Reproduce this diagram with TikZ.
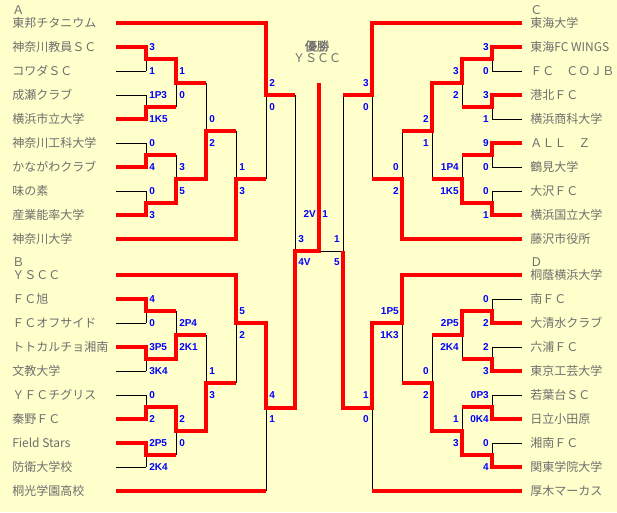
\documentclass[tikz,border=0pt]{standalone}
\usepackage{fontspec}
\setmainfont{Noto Sans CJK JP}[AutoFakeBold=1.5]
\newfontfamily\scorefont{Liberation Sans}
\definecolor{paper}{HTML}{FFFFCC}
\definecolor{teamgray}{HTML}{6E6E6E}
\tikzset{
  win/.style={red, line width=3pt},
  lose/.style={black, line width=0.75pt},
  team/.style={anchor=west, inner sep=0pt, text=teamgray, font=\fontsize{9}{10}\selectfont},
  lscore/.style={anchor=west, inner sep=0pt, text=blue, font=\scorefont\bfseries\fontsize{7.5}{8}\selectfont},
  rscore/.style={lscore, anchor=east}
}
\begin{document}
\begin{tikzpicture}[x=0.75pt, y=-0.75pt]
\fill[paper] (0,0) rectangle (617,512);
% block letters and winner
\foreach \x/\y/\b in {12/10/Ａ, 12/262/Ｂ, 530/10/Ｃ, 530/262/Ｄ}
  \node[team] (blk\b) at (\x,\y) {\b};
\node[team, anchor=center, font=\bfseries\fontsize{9}{10}\selectfont] (champ) at (317,46) {優勝};
\node[team, anchor=center] (champteam) at (317,58) {ＹＳＣＣ};
% teams
\foreach \y/\t [count=\i] in {23/東邦チタニウム, 47/神奈川教員ＳＣ, 71/コワダＳＣ, 95/成瀬クラブ, 119/横浜市立大学, 143/神奈川工科大学, 167/かながわクラブ, 191/味の素, 215/産業能率大学, 239/神奈川大学, 275/ＹＳＣＣ, 299/ＦＣ旭, 323/ＦＣオフサイド, 347/トトカルチョ湘南, 371/文教大学, 395/ＹＦＣチグリス, 419/秦野ＦＣ, 443/Field Stars, 467/防衛大学校, 491/桐光学園高校}
  \node[team] (L\i) at (12,\y) {\t};
\foreach \y/\t [count=\i] in {23/東海大学, 47/東海FC WINGS, 71/ＦＣ　ＣＯＪＢ, 95/港北ＦＣ, 119/横浜商科大学, 143/ＡＬＬ　Ｚ, 167/鶴見大学, 191/大沢ＦＣ, 215/横浜国立大学, 239/藤沢市役所, 275/桐蔭横浜大学, 299/南ＦＣ, 323/大清水クラブ, 347/六浦ＦＣ, 371/東京工芸大学, 395/若葉台ＳＣ, 419/日立小田原, 443/湘南ＦＣ, 467/関東学院大学, 491/厚木マーカス}
  \node[team] (R\i) at (530,\y) {\t};
% thin lines
\foreach \y in {71,95,143,191,323,371,395,467}
  \draw[lose] (116,\y) -- (146,\y);
\foreach \y in {71,119,167,191,299,347,395,443}
  \draw[lose] (522,\y) -- (492,\y);
\foreach \x/\a/\b in {146/47/71, 146/95/119, 146/143/167, 146/191/215, 176/59/107, 176/155/203, 206/83/179, 236/131/239, 266/23/179,
  146/299/323, 146/347/371, 146/395/419, 146/443/467, 176/311/359, 176/407/455, 206/335/431, 236/275/383, 266/323/491,
  295/95/408, 343/95/408,
  492/47/71, 492/95/119, 492/143/167, 492/191/215, 462/59/107, 462/155/203, 432/83/179, 402/131/239, 372/23/179,
  492/299/323, 492/347/371, 492/395/419, 492/443/467, 462/311/359, 462/407/455, 432/335/431, 402/275/383, 372/323/491}
  \draw[lose] (\x,\a) -- (\x,\b);
\draw[lose] (319,251) -- (343,251);
% winners, A
\draw[win] (116,23) -- (266,23) -- (266,95) -- (295,95);
\draw[win] (116,47) -- (146,47) -- (146,59) -- (176,59) -- (176,83) -- (206,83);
\draw[win] (116,119) -- (146,119) -- (146,107) -- (176,107);
\draw[win] (116,167) -- (146,167) -- (146,155) -- (176,155);
\draw[win] (116,215) -- (146,215) -- (146,203) -- (176,203) -- (176,179) -- (206,179) -- (206,131) -- (236,131);
\draw[win] (116,239) -- (236,239) -- (236,179) -- (266,179);
% winners, B
\draw[win] (116,275) -- (236,275) -- (236,323) -- (266,323) -- (266,408) -- (295,408) -- (295,251) -- (319,251) -- (319,83);
\draw[win] (116,299) -- (146,299) -- (146,311) -- (176,311);
\draw[win] (116,347) -- (146,347) -- (146,359) -- (176,359) -- (176,335) -- (206,335);
\draw[win] (116,419) -- (146,419) -- (146,407) -- (176,407) -- (176,431) -- (206,431) -- (206,383) -- (236,383);
\draw[win] (116,443) -- (146,443) -- (146,455) -- (176,455);
\draw[win] (116,491) -- (266,491);
% winners, C
\draw[win] (522,23) -- (372,23) -- (372,95) -- (343,95);
\draw[win] (522,47) -- (492,47) -- (492,59) -- (462,59) -- (462,83) -- (432,83) -- (432,131) -- (402,131);
\draw[win] (522,95) -- (492,95) -- (492,107) -- (462,107);
\draw[win] (522,143) -- (492,143) -- (492,155) -- (462,155);
\draw[win] (522,215) -- (492,215) -- (492,203) -- (462,203) -- (462,179) -- (432,179);
\draw[win] (522,239) -- (402,239) -- (402,179) -- (372,179);
% winners, D
\draw[win] (522,275) -- (402,275) -- (402,323) -- (372,323) -- (372,408) -- (343,408) -- (343,251);
\draw[win] (522,323) -- (492,323) -- (492,311) -- (462,311) -- (462,335) -- (432,335);
\draw[win] (522,371) -- (492,371) -- (492,359) -- (462,359);
\draw[win] (522,419) -- (492,419) -- (492,407) -- (462,407);
\draw[win] (522,467) -- (492,467) -- (492,455) -- (462,455) -- (462,431) -- (432,431) -- (432,383) -- (402,383);
\draw[win] (522,491) -- (372,491);
% scores
\foreach \x/\y/\s [count=\i] in {146/47/3, 146/71/1, 146/95/1P3, 146/119/1K5, 146/143/0, 146/167/4, 146/191/0, 146/215/3,
  176/71/1, 176/95/0, 176/167/3, 176/191/5, 206/119/0, 206/143/2, 236/167/1, 236/191/3, 266/83/2, 266/107/0,
  146/299/4, 146/323/0, 146/347/3P5, 146/371/3K4, 146/395/0, 146/419/2, 146/443/2P5, 146/467/2K4,
  176/323/2P4, 176/347/2K1, 176/419/2, 176/443/0, 206/371/1, 206/395/3, 236/311/5, 236/335/2, 266/395/4, 266/419/1,
  295/239/3, 295/262/4V, 319/214/1}
  \node[lscore] (ls\i) at (\x+3,\y) {\s};
\foreach \x/\y/\s [count=\i] in {492/47/3, 492/71/0, 492/95/3, 492/119/1, 492/143/9, 492/167/0, 492/191/0, 492/215/1,
  462/71/3, 462/95/2, 462/167/1P4, 462/191/1K5, 432/119/2, 432/143/1, 402/167/0, 402/191/2, 372/83/3, 372/107/0,
  492/299/0, 492/323/2, 492/347/2, 492/371/3, 492/395/0P3, 492/419/0K4, 492/443/0, 492/467/4,
  462/323/2P5, 462/347/2K4, 462/419/1, 462/443/3, 432/371/0, 432/395/2, 402/311/1P5, 402/335/1K3, 372/395/1, 372/419/0,
  343/239/1, 343/262/5, 319/214/2V}
  \node[rscore] (rs\i) at (\x-3,\y) {\s};
\end{tikzpicture}
\end{document}
